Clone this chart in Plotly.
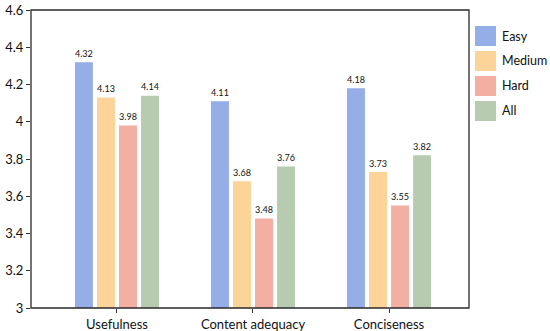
import plotly.graph_objects as go

categories = ["Usefulness", "Content adequacy", "Conciseness"]
series_names = ["Easy", "Medium", "Hard", "All"]
easy = [4.32, 4.11, 4.18]
medium = [4.13, 3.68, 3.73]
hard = [3.98, 3.48, 3.55]
all_ = [4.14, 3.76, 3.82]
values = [easy, medium, hard, all_]
colors = ["#95aee8", "#fcd398", "#f3afa2", "#b7cbb0"]
y_ticks = [3, 3.2, 3.4, 3.6, 3.8, 4, 4.2, 4.4, 4.6]

FONT = "Lato, Open Sans, sans-serif"

fig = go.Figure()
for name, vals, col in zip(series_names, values, colors):
    fig.add_trace(go.Bar(
        x=categories, y=vals, name=name,
        marker=dict(color=col, line=dict(width=0)),
        text=[f"{v:.2f}" for v in vals],
        textposition="outside",
        textfont=dict(size=12, color="#111", family=FONT),
        cliponaxis=False,
        showlegend=False,
    ))

# custom legend with large square swatches
for i, (name, col) in enumerate(zip(series_names, colors)):
    y0 = 1 - (16 + i * 25) / 298
    fig.add_shape(type="rect", xref="paper", yref="paper",
                  x0=1 + 6 / 438, x1=1 + 27 / 438,
                  y0=y0 - 20 / 298, y1=y0,
                  fillcolor=col, line=dict(width=0))
    fig.add_annotation(xref="paper", yref="paper",
                       x=1 + 31 / 438, y=y0 - 10 / 298,
                       text=name, showarrow=False, xanchor="left", yanchor="middle",
                       font=dict(size=12.5, color="#111", family=FONT))

# plot frame
fig.add_shape(type="rect", xref="paper", yref="paper", x0=0, x1=1, y0=0, y1=1,
              line=dict(color="#2a2a2a", width=1.3), fillcolor="rgba(0,0,0,0)", layer="above")

fig.update_layout(
    width=550, height=331,
    margin=dict(l=31, r=81, t=10, b=23, autoexpand=False),
    barmode="group", bargap=0.352, bargroupgap=0.185,
    plot_bgcolor="white", paper_bgcolor="white",
    font=dict(family=FONT, size=13, color="#111"),
)
fig.update_xaxes(
    type="category", range=[-0.632, 2.588], automargin=False,
    showline=False,
    ticks="outside", ticklen=4, tickcolor="#333", tickwidth=1.2,
    tickfont=dict(size=13), showgrid=False,
)
fig.update_yaxes(
    range=[3, 4.6], tickvals=y_ticks, ticktext=[f"{t:g}" for t in y_ticks],
    automargin=False, showline=False,
    ticks="outside", ticklen=4, tickcolor="#333", tickwidth=1.2, ticklabelstandoff=0,
    tickfont=dict(size=13), showgrid=False, zeroline=False,
)

fig.write_html(
    "out.html",
    config={"displayModeBar": False},
    post_script="document.body.style.margin='0';document.body.style.overflow='hidden';",
)
